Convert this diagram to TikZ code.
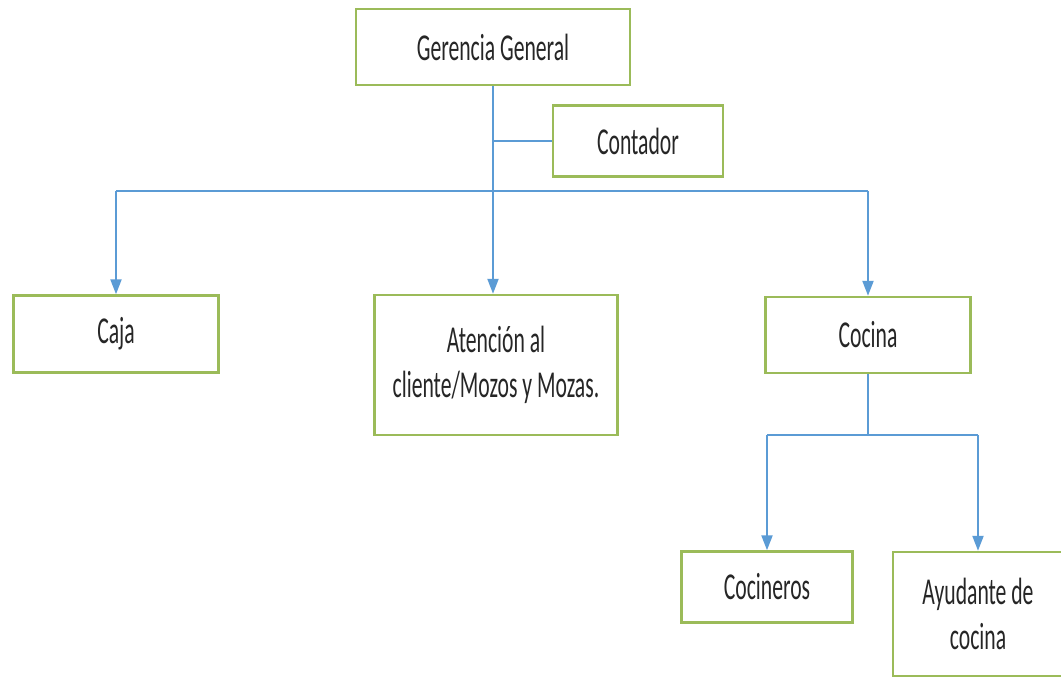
\documentclass[tikz,border=0pt]{standalone}
\usepackage{fontspec}
\setmainfont[FakeStretch=0.57]{Carlito}
\usetikzlibrary{arrows.meta}
\definecolor{boxgreen}{HTML}{9BBB59}
\definecolor{lineblue}{HTML}{5B9BD5}
\begin{document}
\begin{tikzpicture}[x=1pt,y=-1pt,
    puesto/.style={draw=boxgreen,line width=2.5pt,fill=white,inner sep=0pt,
      font=\fontsize{38}{45}\selectfont,text=black!85,align=center},
    enlace/.style={draw=lineblue,line width=2.2pt},
    flecha/.style={enlace,-{Triangle[width=11pt,length=15pt]}}]
  \useasboundingbox (0,0) rectangle (1061,678);
  \fill[white] (0,0) rectangle (1061,678);

  % puestos
  \node[puesto,minimum width=274,minimum height=76] (gerencia) at (493,47) {Gerencia General};
  \node[puesto,minimum width=170,minimum height=71] (contador) at (638,141) {Contador};
  \node[puesto,minimum width=205,minimum height=77] (caja) at (116,334) {Caja};
  \node[puesto,minimum width=243,minimum height=140] (atencion) at (496,365) {Atención al\\cliente/Mozos y Mozas.};
  \node[puesto,minimum width=205,minimum height=76] (cocina) at (868,335) {Cocina};
  \node[puesto,minimum width=171,minimum height=71] (cocineros) at (767,587) {Cocineros};
  \node[puesto,minimum width=170,minimum height=124] (ayudante) at (978,614) {Ayudante de\\cocina};

  % enlaces
  \coordinate (j1) at (493,191);
  \coordinate (j2) at (868,435);
  \draw[enlace] (gerencia) -- (j1);
  \draw[enlace] (contador -| j1) -- (contador);
  \draw[enlace] (caja |- j1) -- (cocina |- j1);
  \draw[flecha] (caja |- j1) -- (caja);
  \draw[flecha] (j1) -- (j1 |- atencion.north);
  \draw[flecha] (cocina |- j1) -- (cocina);
  \draw[enlace] (cocina) -- (j2);
  \draw[enlace] (cocineros |- j2) -- (ayudante |- j2);
  \draw[flecha] (cocineros |- j2) -- (cocineros);
  \draw[flecha] (ayudante |- j2) -- (ayudante);
\end{tikzpicture}
\end{document}
